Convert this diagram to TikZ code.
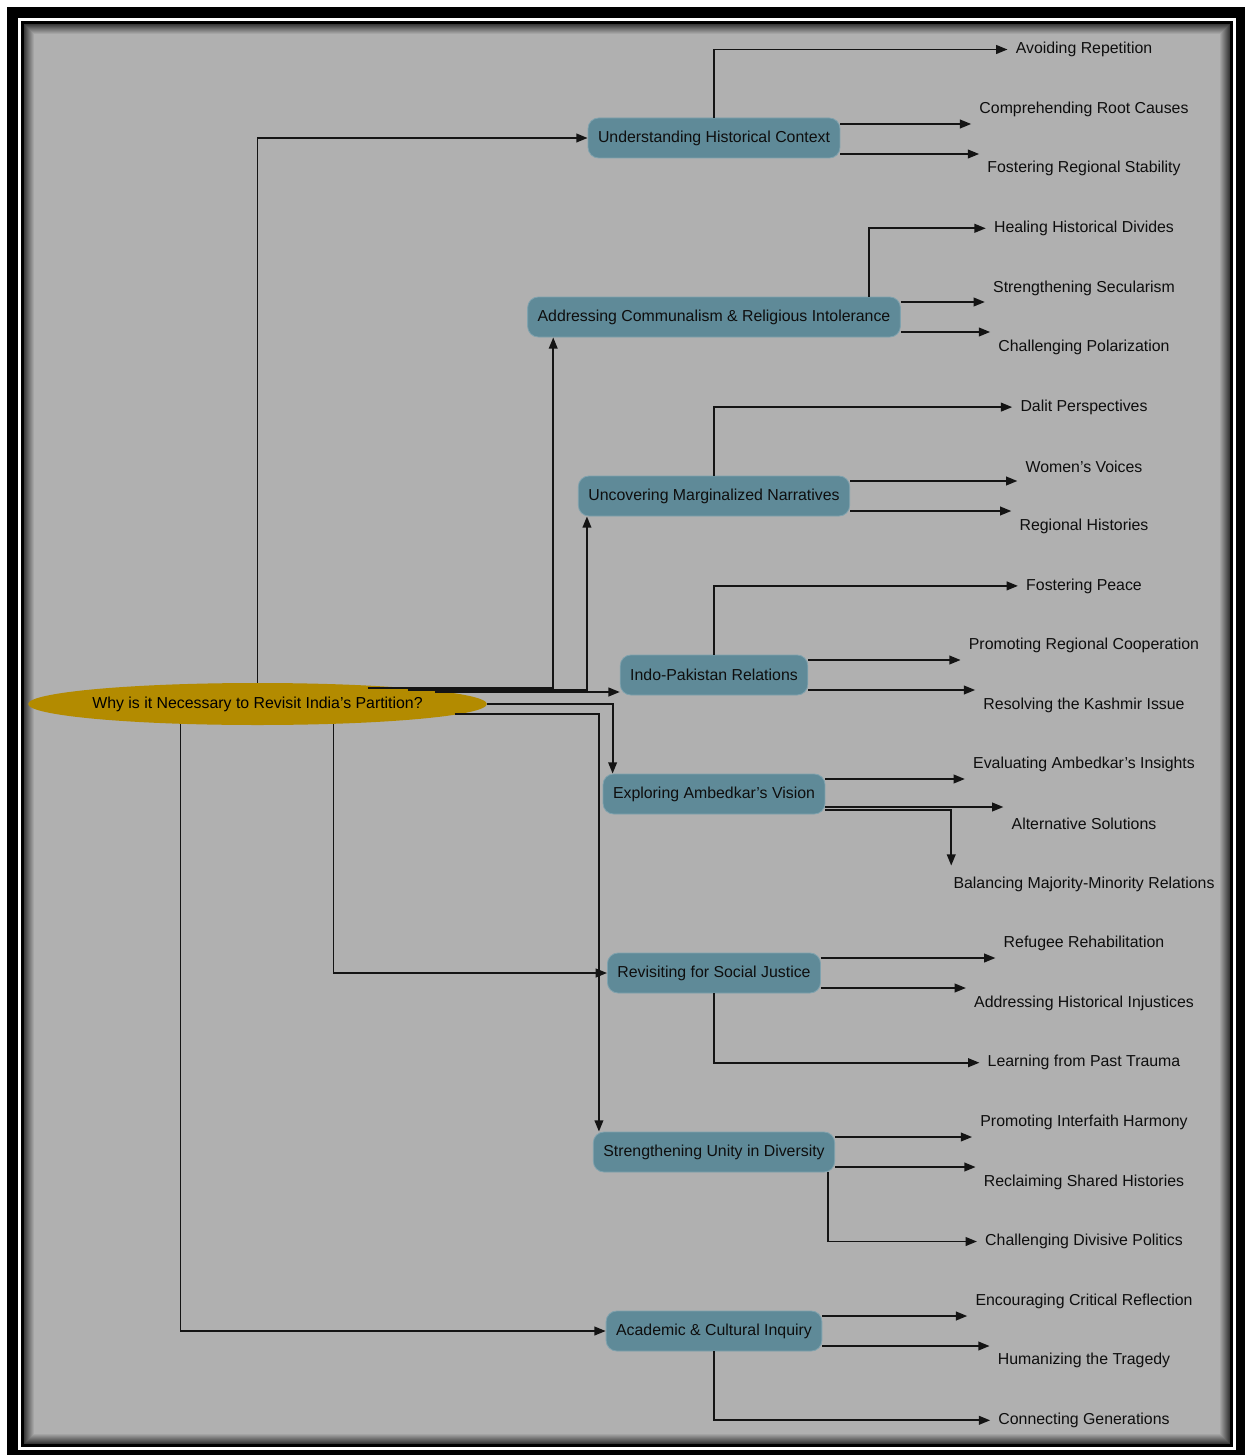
\documentclass[tikz,border=0pt]{standalone}
\usepackage{fontspec}
\setmainfont{Liberation Sans}
\usetikzlibrary{arrows.meta, calc, shapes.geometric}

\begin{document}
\begin{tikzpicture}[
    x=0.75pt, y=-0.75pt,
    every node/.style={font=\fontsize{11.9}{14}\selectfont},
]

% ---------------------------------------------------------------- colours
\definecolor{rootfill}{HTML}{B38B00}   % the question
\definecolor{boxfill}{HTML}{5F8A98}    % the eight reasons
\definecolor{boxline}{HTML}{7FA2AE}
\definecolor{wire}{HTML}{141414}
\definecolor{ink}{HTML}{0E0E0E}

\tikzset{
    hub/.style={ellipse, fill=rootfill, minimum width=344pt, minimum height=31.5pt,
                inner xsep=-8pt, inner ysep=0pt, text=black},
    topic/.style={rectangle, rounded corners=8pt, minimum height=30pt,
                  inner xsep=7.5pt, fill=boxfill, draw=boxline, line width=0.6pt, text=ink},
    leaf/.style={minimum height=27pt, inner xsep=6pt, text=ink},
    link/.style={draw=wire, line width=1.4pt, -{Triangle[length=8.5pt, width=6.5pt]}},
}

\useasboundingbox (0,0) rectangle (1245,1455);

% ================================================================
% Frame: black, white, black, then grey with an inner shadow.
%   everything below is in pixels of the reference, y going down
%   topics  x = 714,  leaves x = 1084 (one every 59.6 px)
% ================================================================
\fill[white] (0,0) rectangle (1245,1455);
\fill[black] (7,7) rectangle (1245,1455);
\fill[white] (18,18) rectangle (1236,1450);
\fill[black] (21,21) rectangle (1233,1447);
\foreach \i [evaluate=\i as \s using 78-4.7*\i] in {0,...,10}
    \fill[black!\s] (24+\i,24+\i) rectangle (1230-\i,1444-\i);

% ----------------------------------------------------------------------
% nodes
% ----------------------------------------------------------------------
\node[hub] (root) at (257.5, 704) {Why is it Necessary to Revisit India's Partition?};

\node[topic] (hist)  at (714, 138)  {Understanding Historical Context};
\node[topic] (comm)  at (714, 317)  {Addressing Communalism \& Religious Intolerance};
\node[topic] (marg)  at (714, 496)  {Uncovering Marginalized Narratives};
\node[topic] (indo)  at (714, 675)  {Indo-Pakistan Relations};
\node[topic] (ambe)  at (714, 794)  {Exploring Ambedkar's Vision};
\node[topic] (just)  at (714, 973)  {Revisiting for Social Justice};
\node[topic] (unity) at (714, 1152) {Strengthening Unity in Diversity};
\node[topic] (acad)  at (714, 1331) {Academic \& Cultural Inquiry};

\foreach \t [count=\k from 0] in {Avoiding Repetition, Comprehending Root Causes,
        Fostering Regional Stability, Healing Historical Divides,
        Strengthening Secularism, Challenging Polarization, Dalit Perspectives,
        Women's Voices, Regional Histories, Fostering Peace,
        Promoting Regional Cooperation, Resolving the Kashmir Issue,
        Evaluating Ambedkar's Insights, Alternative Solutions,
        Balancing Majority-Minority Relations, Refugee Rehabilitation,
        Addressing Historical Injustices, Learning from Past Trauma,
        Promoting Interfaith Harmony, Reclaiming Shared Histories,
        Challenging Divisive Politics, Encouraging Critical Reflection,
        Humanizing the Tragedy, Connecting Generations}
    \node[leaf] (l\k) at (1084, 49.5+59.6*\k) {\t};

% ----------------------------------------------------------------------
% root to topics
% ----------------------------------------------------------------------
\draw[link] (root.north) |- (hist.west);
\draw[link] ($(root.center)+(110,-16)$) -| ($(comm.south west)+(26,0)$);
\draw[link] ($(root.center)+(150,-14)$) -| ($(marg.south west)+(9,0)$);
\draw[link] ($(root.center)+(177,-12)$) coordinate (a) -- (a -| indo.west);
\draw[link] (root.east) -| ($(ambe.north west)+(10,0)$);
\draw[link] ($(root.center)+(197,10)$) -| ($(unity.north west)+(6,0)$);
\draw[link] ($(root.center)+(76,20)$) |- (just.west);
\draw[link] ($(root.center)+(-77,20)$) |- (acad.west);

% ----------------------------------------------------------------------
% topics to leaves
% ----------------------------------------------------------------------
\draw[link] (hist.north) |- (l0.west);
\draw[link] ($(hist.east)+(0,-14)$) coordinate (a) -- (a -| l1.west);
\draw[link] ($(hist.east)+(0,16)$) coordinate (a) -- (a -| l2.west);

\draw[link] ($(comm.north east)+(-32,0)$) |- (l3.west);
\draw[link] ($(comm.east)+(0,-15)$) coordinate (a) -- (a -| l4.west);
\draw[link] ($(comm.east)+(0,15)$) coordinate (a) -- (a -| l5.west);

\draw[link] (marg.north) |- (l6.west);
\draw[link] ($(marg.east)+(0,-15)$) coordinate (a) -- (a -| l7.west);
\draw[link] ($(marg.east)+(0,15)$) coordinate (a) -- (a -| l8.west);

\draw[link] (indo.north) |- (l9.west);
\draw[link] ($(indo.east)+(0,-15)$) coordinate (a) -- (a -| l10.west);
\draw[link] ($(indo.east)+(0,15)$) coordinate (a) -- (a -| l11.west);

\draw[link] ($(ambe.east)+(0,-15)$) coordinate (a) -- (a -| l12.west);
\draw[link] ($(ambe.east)+(0,13)$) coordinate (a) -- (a -| l13.west);
\draw[link] ($(ambe.east)+(0,16)$) -| ($(l14.north west)+(6,0)$);

\draw[link] ($(just.east)+(0,-15)$) coordinate (a) -- (a -| l15.west);
\draw[link] ($(just.east)+(0,15)$) coordinate (a) -- (a -| l16.west);
\draw[link] (just.south) |- (l17.west);

\draw[link] ($(unity.east)+(0,-15)$) coordinate (a) -- (a -| l18.west);
\draw[link] ($(unity.east)+(0,15)$) coordinate (a) -- (a -| l19.west);
\draw[link] ($(unity.south east)+(-7,0)$) |- (l20.west);

\draw[link] ($(acad.east)+(0,-15)$) coordinate (a) -- (a -| l21.west);
\draw[link] ($(acad.east)+(0,15)$) coordinate (a) -- (a -| l22.west);
\draw[link] (acad.south) |- (l23.west);

\end{tikzpicture}
\end{document}
